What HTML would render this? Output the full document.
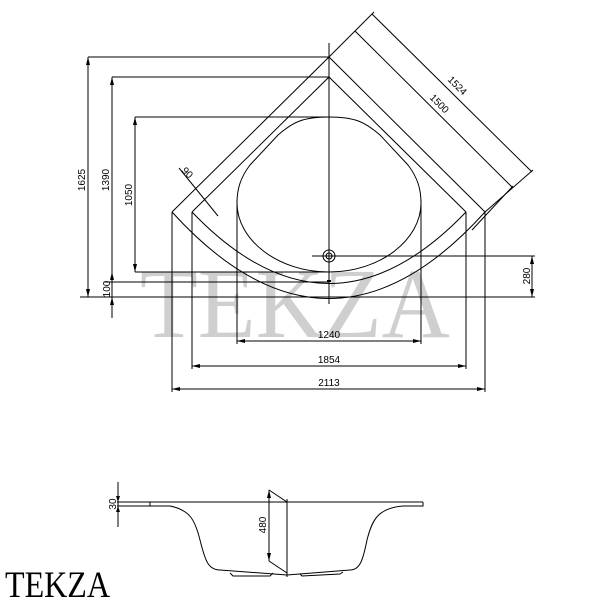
<!DOCTYPE html>
<html><head><style>body{margin:0;background:#fff}svg{display:block}</style></head><body>
<svg width="600" height="600" viewBox="0 0 600 600" xmlns="http://www.w3.org/2000/svg" font-family="Liberation Sans, sans-serif">
<rect width="600" height="600" fill="#fff"/>
<text x="295" y="337" font-family="Liberation Serif, serif" font-size="100" fill="#cfcfcf" text-anchor="middle" textLength="310" lengthAdjust="spacingAndGlyphs">TEKZA</text>
<g fill="none" stroke="#000" stroke-width="1">
<path d="M172,212 L329,57 L485,212"/>
<path d="M172,212 Q329,385 485,212"/>
<path d="M192,212 L329,77 L466,212"/>
<path d="M192,212 Q329,355 466,212"/>
<path d="M329,117 C355,117 365,122 380,135 L408,165 C418,178 421,190 421,203 C421,240 380,272 329,272 C278,272 237,240 237,203 C237,190 240,178 250,165 L278,135 C293,122 303,117 329,117 Z"/>
<circle cx="329" cy="256" r="6"/><circle cx="329" cy="256" r="3"/>
<line x1="329" y1="43" x2="329" y2="304"/>
<line x1="88" y1="57" x2="329" y2="57"/>
<line x1="112" y1="77" x2="329" y2="77"/>
<line x1="135" y1="117" x2="329" y2="117"/>
<line x1="135" y1="272" x2="329" y2="272"/>
<line x1="104" y1="282" x2="329" y2="282"/>
<line x1="80" y1="297" x2="535" y2="297"/>
<line x1="312" y1="256" x2="535" y2="256"/>
<line x1="88" y1="57" x2="88" y2="297"/>
<line x1="112" y1="77" x2="112" y2="318"/>
<line x1="135" y1="117" x2="135" y2="272"/>
<line x1="532" y1="256" x2="532" y2="297"/>
<line x1="172" y1="212" x2="172" y2="392"/>
<line x1="192" y1="212" x2="192" y2="369"/>
<line x1="237" y1="200" x2="237" y2="344"/>
<line x1="421" y1="200" x2="421" y2="344"/>
<line x1="466" y1="212" x2="466" y2="369"/>
<line x1="485" y1="212" x2="485" y2="392"/>
<line x1="237" y1="341" x2="421" y2="341"/>
<line x1="192" y1="366" x2="466" y2="366"/>
<line x1="172" y1="389" x2="485" y2="389"/>
<line x1="329" y1="57" x2="374" y2="12"/>
<line x1="485" y1="212" x2="533" y2="170"/>
<line x1="372" y1="14" x2="532" y2="172"/>
<line x1="355" y1="31" x2="512" y2="187"/>
<line x1="472" y1="230" x2="513" y2="186"/>
<line x1="179" y1="168" x2="218" y2="216"/>
</g>
<rect x="327" y="280" width="4" height="2" fill="#000"/>
<g fill="#000">
<path d="M88,57 l-2,8 h4z M88,297 l-2,-8 h4z M112,77 l-2,8 h4z M112,272 l-2,8 h4z M112,297 l-2,8 h4z M135,117 l-2,8 h4z M135,272 l-2,-8 h4z M532,256 l-2,8 h4z M532,297 l-2,-8 h4z"/>
<path d="M237,341 l8,-2 v4z M421,341 l-8,-2 v4z M192,366 l8,-2 v4z M466,366 l-8,-2 v4z M172,389 l8,-2 v4z M485,389 l-8,-2 v4z"/>
</g>
<g font-size="10" fill="#000">
<text transform="translate(88,180) rotate(-90)" text-anchor="middle" dy="-3">1625</text>
<text transform="translate(112,180) rotate(-90)" text-anchor="middle" dy="-3">1390</text>
<text transform="translate(135,195) rotate(-90)" text-anchor="middle" dy="-3">1050</text>
<text transform="translate(110,289) rotate(-90)" text-anchor="middle" dy="0">100</text>
<text transform="translate(530,276) rotate(-90)" text-anchor="middle" dy="0">280</text>
<text x="329" y="338" text-anchor="middle">1240</text>
<text x="329" y="363" text-anchor="middle">1854</text>
<text x="329" y="386" text-anchor="middle">2113</text>
<text transform="translate(455,88) rotate(45)" text-anchor="middle">1524</text>
<text transform="translate(437,106) rotate(45)" text-anchor="middle">1500</text>
<text transform="translate(185,175) rotate(45)" text-anchor="middle">90</text>
</g>
<g fill="none" stroke="#000" stroke-width="1">
<line x1="117" y1="502" x2="423" y2="502"/>
<line x1="117" y1="506" x2="150" y2="506"/>
<path d="M150,502 L150,506 M150,506 L170,506 C190,510 195,520 200,540 C205,560 208,570 220,570 L287,575 L350,570 C360,570 363,560 367,540 C372,520 378,508 403,506 L423,506 L423,502"/>
<path d="M230,573 L233,576 L270,576 L273,573 M300,574 L302,576 L340,574 L343,572"/>
<line x1="118" y1="482" x2="118" y2="527"/>
<line x1="269" y1="490" x2="269" y2="561"/>
<line x1="269" y1="490" x2="287" y2="502"/>
<line x1="269" y1="561" x2="287" y2="573"/>
<line x1="287" y1="499" x2="287" y2="577"/>
</g>
<g fill="#000"><path d="M269,490 l-2,8 h4z M269,561 l-2,-8 h4z M118,502 l-2,-6 h4z M118,506 l-2,6 h4z"/></g>
<text transform="translate(116,504) rotate(-90)" text-anchor="middle" font-size="10">30</text>
<text transform="translate(266,525) rotate(-90)" text-anchor="middle" font-size="10">480</text>
<text x="5" y="597" font-family="Liberation Serif, serif" font-size="37" fill="#000" textLength="105" lengthAdjust="spacingAndGlyphs">TEKZA</text>
</svg>
</body></html>
